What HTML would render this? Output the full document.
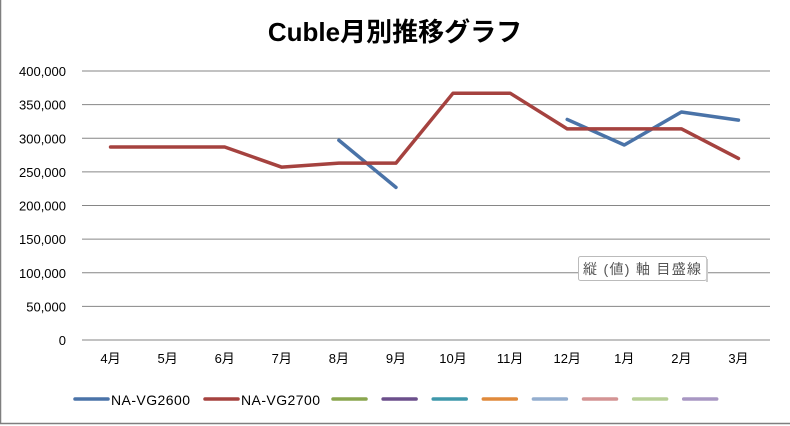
<!DOCTYPE html>
<html><head><meta charset="utf-8"><style>
html,body{margin:0;padding:0;background:#fff;}
svg{display:block;font-family:"Liberation Sans","Noto Sans CJK JP",sans-serif;}
</style></head><body>
<svg id="chart" width="790" height="426" viewBox="0 0 790 426">
<rect x="0.5" y="-1" width="795" height="424.5" fill="#fff" stroke="#7f7f7f" stroke-width="1.5"/>
<text x="395" y="41" text-anchor="middle" font-size="26" font-weight="bold" fill="#000">Cuble月別推移グラフ</text>
<g id="grid"></g><g id="yticks"></g><g id="xticks"></g><g id="series"></g>
<g id="legend"></g>
<g>
<rect x="578.5" y="256.5" width="128" height="24" rx="2" fill="#fff" stroke="#bbb"/>
<rect x="706" y="259" width="2" height="23" fill="#ccc"/>
<text x="583" y="274" font-size="14" fill="#555" textLength="118">縦 (値) 軸 目盛線</text>
</g>
</svg>
<script>
const categories=["4月","5月","6月","7月","8月","9月","10月","11月","12月","1月","2月","3月"];
const seriesNames=["NA-VG2600","NA-VG2700"];
const vg2600=[null,null,null,null,297000,227000,null,null,328000,290000,339000,327000];
const vg2700=[287000,287000,287000,257000,263000,263000,367000,367000,314000,314000,314000,270000];
const yTicks=[0,50000,100000,150000,200000,250000,300000,350000,400000];
const extraLegendColors=["#8aa64e","#6b4f8b","#3f98ab","#e08a3c","#94aecf","#d49494","#b7cf96","#a897c3"];
const NS="http://www.w3.org/2000/svg";
const L=82,R=767,T=71,B=340,yMax=400000;
const xs=i=>L+(R-L)/categories.length*(i+0.5);
const ys=v=>B-(v/yMax)*(B-T);
function mk(tag,attrs,parent){const e=document.createElementNS(NS,tag);for(const k in attrs)e.setAttribute(k,attrs[k]);parent.appendChild(e);return e;}
const g=document.getElementById('grid'),yt=document.getElementById('yticks'),xt=document.getElementById('xticks'),sg=document.getElementById('series'),lg=document.getElementById('legend');
yTicks.forEach(v=>{
  const ln=mk('line',{x1:L,x2:770,y1:ys(v),y2:ys(v),stroke:'#868686','stroke-width':1},g);
  
  
  const t=mk('text',{x:66,y:ys(v)+5,'text-anchor':'end','font-size':13,fill:'#000'},yt);
  t.textContent=v.toLocaleString('en-US');
  
  
});
categories.forEach((c,i)=>{
  const t=mk('text',{x:xs(i),y:363,'text-anchor':'middle','font-size':13,fill:'#000'},xt);
  t.textContent=c;
  
  
});
function drawLine(data,color,name){
  let segs=[],cur=[];
  data.forEach((v,i)=>{if(v==null){if(cur.length)segs.push(cur);cur=[];}else cur.push([xs(i),ys(v)]);});
  if(cur.length)segs.push(cur);
  segs.forEach(s=>{
    const p=mk('polyline',{points:s.map(q=>q.join(',')).join(' '),fill:'none',stroke:color,'stroke-width':3.5,'stroke-linejoin':'round','stroke-linecap':'round'},sg);
    
    
  });
}
drawLine(vg2600,'#4a73a8','series-na-vg2600');
drawLine(vg2700,'#a5423f','series-na-vg2700');
let lx=75;
[['#4a73a8',seriesNames[0]],['#a5423f',seriesNames[1]]].forEach(([c,n])=>{
  const l=mk('line',{x1:lx,x2:lx+33,y1:399,y2:399,stroke:c,'stroke-width':3.5,'stroke-linecap':'round'},lg);
  
  
  const t=mk('text',{x:lx+36,y:405,'font-size':14,fill:'#000',textLength:79},lg);
  t.textContent=n;
  
  
  lx+=130;
});
lx=333;
extraLegendColors.forEach(c=>{
  const l=mk('line',{x1:lx,x2:lx+33,y1:399,y2:399,stroke:c,'stroke-width':3.5,'stroke-linecap':'round'},lg);
  
  
  lx+=50.1;
});
</script>
</body></html>
